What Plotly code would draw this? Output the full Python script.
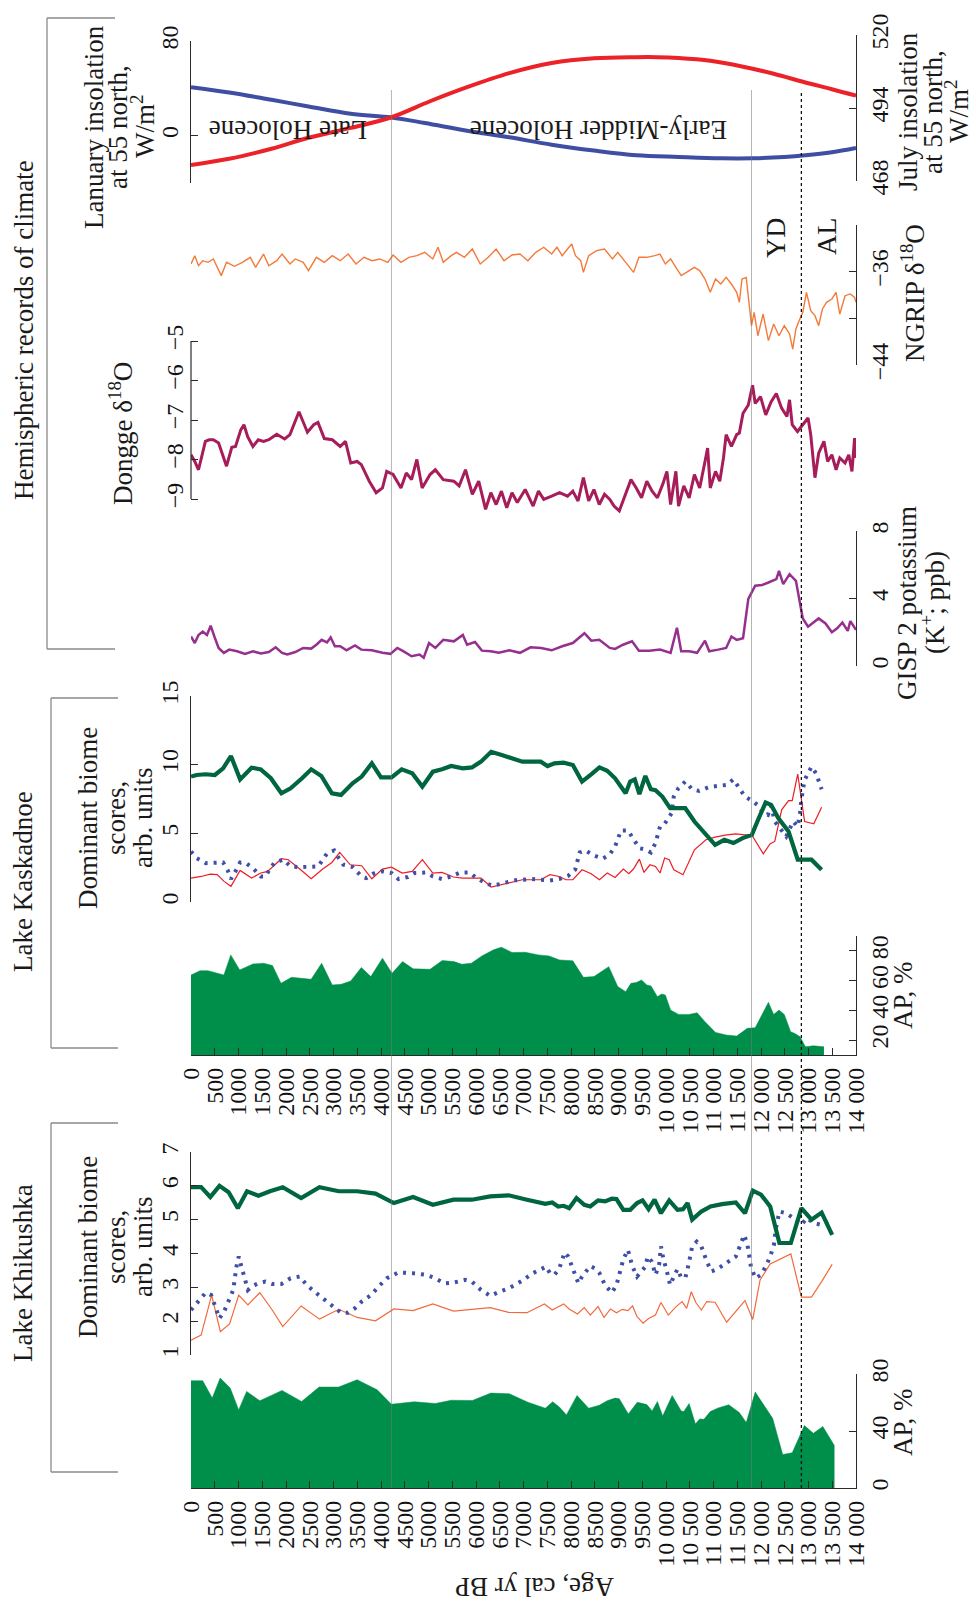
import plotly.graph_objects as go

W, H = 976, 1603
FONT = "Liberation Serif"

# ---------------- data ----------------
AGE_TICKS = [0, 500, 1000, 1500, 2000, 2500, 3000, 3500, 4000, 4500, 5000, 5500, 6000, 6500,
             7000, 7500, 8000, 8500, 9000, 9500, 10000, 10500, 11000, 11500, 12000, 12500,
             13000, 13500, 14000]
AGE_TICK_LABELS = ["0", "500", "1000", "1500", "2000", "2500", "3000", "3500", "4000", "4500",
                   "5000", "5500", "6000", "6500", "7000", "7500", "8000", "8500", "9000", "9500",
                   "10 000", "10 500", "11 000", "11 500", "12 000", "12 500", "13 000", "13 500",
                   "14 000"]
BOUNDARY_AGES = [4220, 11800]      # grey lines
AL_BOUNDARY_AGE = 12850            # dotted line

# insolation
JULY_AGE = [0, 804, 1694, 2473, 3363, 4220, 5033, 5812, 6702, 7593, 8483, 9374, 9819, 10264,
            10932, 11600, 12267, 12935, 13492, 14000]
JULY_INS = [473.7, 475.9, 479.5, 483.4, 486.9, 490.7, 496.4, 501.4, 506.4, 510.0, 511.7, 512.1,
            512.1, 511.8, 510.8, 508.8, 506.2, 503.1, 500.7, 498.4]
JAN_AGE = [0, 804, 1694, 2473, 3363, 4220, 4922, 5812, 6702, 7593, 8483, 9374, 10264, 11154,
           11822, 12490, 12935, 13492, 14000]
JAN_INS = [41.0, 36.5, 30.3, 24.7, 18.5, 15.4, 10.7, 4.2, -1.4, -7.6, -12.6, -16.6, -18.0, -19.1,
           -19.1, -18.0, -16.6, -14.0, -10.4]

# NGRIP d18O
NGRIP_AGE = [0, 80, 158, 247, 358, 470, 637, 748, 915, 1082,
             1249, 1360, 1527, 1638, 1805, 1917, 2083, 2195, 2362, 2473,
             2640, 2807, 2974, 3141, 3308, 3475, 3642, 3809, 3976, 4143,
             4254, 4421, 4588, 4755, 4922, 5089, 5200, 5311, 5478, 5589,
             5756, 5923, 6090, 6257, 6424, 6591, 6758, 6925, 7092, 7259,
             7426, 7593, 7704, 7815, 7927, 8016, 8094, 8205, 8261, 8372,
             8539, 8706, 8873, 8984, 9151, 9318, 9429, 9596, 9763, 9874,
             9986, 10097, 10208, 10320, 10431, 10598, 10709, 10821, 10932, 11043,
             11154, 11266, 11377, 11488, 11544, 11600, 11689, 11745, 11800, 11856,
             11934, 12045, 12156, 12267, 12379, 12490, 12601, 12668, 12735, 12802,
             12880, 12957, 13047, 13136, 13214, 13293, 13380, 13492, 13581, 13659,
             13770, 13881, 13970, 14000]
NGRIP_D18O = [-35.34, -34.63, -35.49, -35.06, -35.20, -34.91, -36.34, -35.20, -35.54, -35.20,
              -34.77, -35.63, -34.49, -35.49, -35.06, -34.49, -35.34, -34.91, -35.20, -35.91,
              -34.77, -35.20, -34.63, -35.06, -34.49, -35.34, -34.77, -35.06, -34.91, -35.20,
              -34.57, -35.20, -34.77, -34.63, -34.34, -34.91, -33.91, -35.20, -34.63, -34.34,
              -34.77, -34.06, -35.34, -34.77, -34.06, -35.06, -34.57, -34.49, -35.06, -34.34,
              -33.91, -34.49, -33.91, -34.63, -34.06, -33.63, -34.63, -35.06, -36.06, -34.63,
              -34.20, -34.06, -34.91, -34.34, -35.20, -36.06, -34.77, -34.77, -34.63, -34.49,
              -35.34, -34.91, -35.63, -36.34, -36.06, -35.63, -35.91, -36.63, -37.77, -36.63,
              -37.06, -36.49, -37.06, -37.77, -38.63, -36.63, -36.49, -38.91, -40.63, -39.49,
              -41.49, -39.63, -41.91, -40.49, -41.49, -40.63, -41.34, -42.63, -40.91, -40.20,
              -39.49, -37.77, -39.34, -39.77, -40.63, -39.20, -38.63, -38.34, -37.77, -39.63,
              -38.06, -37.91, -38.20, -38.63]

# Dongge d18O
DONGGE_AGE = [0, 80, 158, 225, 303, 381, 470, 581, 748, 859,
              937, 1048, 1115, 1193, 1304, 1416, 1527, 1638, 1805, 1972,
              2083, 2273, 2451, 2584, 2673, 2807, 2974, 3141, 3252, 3363,
              3497, 3586, 3753, 3898, 4031, 4120, 4254, 4421, 4532, 4643,
              4755, 4866, 5033, 5144, 5311, 5534, 5645, 5779, 5923, 6057,
              6202, 6313, 6424, 6535, 6647, 6758, 6869, 7036, 7203, 7315,
              7426, 7593, 7760, 7927, 8038, 8149, 8261, 8372, 8483, 8595,
              8706, 8817, 8906, 9017, 9151, 9262, 9374, 9485, 9596, 9708,
              9819, 9930, 10019, 10097, 10208, 10264, 10375, 10487, 10598, 10709,
              10821, 10876, 10932, 11043, 11132, 11210, 11266, 11377, 11488, 11544,
              11622, 11733, 11822, 11878, 11990, 12100, 12212, 12323, 12434, 12546,
              12601, 12657, 12768, 12880, 12991, 13047, 13136, 13214, 13325, 13403,
              13492, 13581, 13659, 13770, 13848, 13915, 13970, 14000]
DONGGE_D18O = [-7.88, -8.05, -8.26, -7.96, -7.54, -7.50, -7.50, -7.58, -8.17, -7.69,
               -7.67, -7.25, -7.12, -7.42, -7.67, -7.50, -7.54, -7.50, -7.36, -7.48,
               -7.37, -6.79, -7.31, -7.12, -7.06, -7.47, -7.50, -7.67, -7.54, -8.09,
               -8.05, -8.13, -8.55, -8.84, -8.72, -8.30, -8.38, -8.72, -8.34, -8.51,
               -8.00, -8.72, -8.38, -8.26, -8.51, -8.55, -8.67, -8.26, -8.88, -8.55,
               -9.26, -8.84, -9.14, -8.80, -9.22, -8.84, -9.09, -8.76, -9.18, -8.80,
               -9.01, -8.93, -8.84, -8.93, -8.80, -9.05, -8.46, -9.05, -8.76, -9.14,
               -8.88, -9.01, -9.18, -9.30, -8.88, -8.51, -8.72, -8.97, -8.55, -8.80,
               -8.97, -8.63, -8.30, -9.14, -8.30, -9.18, -8.67, -8.97, -8.38, -8.72,
               -8.05, -7.71, -8.72, -8.30, -8.55, -7.96, -7.37, -7.67, -7.37, -7.33,
               -6.83, -6.62, -6.12, -6.58, -6.41, -6.87, -6.54, -6.33, -6.70, -6.91,
               -6.49, -7.12, -7.29, -7.12, -6.95, -7.37, -8.46, -7.84, -7.54, -8.05,
               -7.88, -8.26, -7.96, -8.09, -7.88, -8.30, -7.46, -7.96]

# GISP2 potassium
GISP_AGE = [0, 80, 158, 247, 336, 414, 492, 581, 692, 804,
            970, 1137, 1304, 1471, 1638, 1783, 1917, 2028, 2195, 2362,
            2529, 2640, 2751, 2863, 2940, 3029, 3141, 3274, 3452, 3586,
            3809, 4031, 4198, 4343, 4476, 4643, 4810, 4899, 5011, 5144,
            5311, 5534, 5723, 5812, 5979, 6124, 6313, 6480, 6702, 6925,
            7148, 7370, 7593, 7815, 8038, 8172, 8283, 8428, 8595, 8817,
            8928, 9095, 9285, 9430, 9652, 9875, 10097, 10231, 10320, 10487,
            10654, 10821, 10910, 11099, 11266, 11377, 11488, 11622, 11733, 11878,
            12023, 12156, 12323, 12379, 12468, 12601, 12735, 12880, 12991, 13213,
            13358, 13492, 13603, 13714, 13826, 13881, 14000]
GISP_K = [1.75, 1.36, 1.84, 2.04, 1.84, 2.39, 1.75, 1.07, 0.78, 0.97,
          0.87, 0.72, 0.87, 0.74, 0.83, 1.11, 0.78, 0.68, 0.83, 1.07,
          1.03, 1.26, 1.55, 1.40, 1.69, 1.17, 1.17, 0.93, 1.22, 0.97,
          0.93, 0.78, 0.72, 1.07, 0.87, 0.58, 0.68, 0.49, 1.36, 1.07,
          1.55, 1.46, 1.84, 1.26, 1.42, 0.91, 0.87, 0.78, 0.93, 0.78,
          1.11, 1.07, 0.93, 1.17, 1.36, 1.65, 1.94, 1.50, 1.55, 1.07,
          1.01, 1.26, 1.46, 0.91, 0.91, 0.97, 0.78, 2.27, 0.87, 0.87,
          0.78, 1.50, 0.87, 0.97, 1.07, 1.75, 1.55, 1.65, 3.98, 4.76,
          4.80, 4.95, 5.15, 5.63, 4.85, 5.44, 5.05, 2.82, 2.33, 2.82,
          2.52, 2.00, 2.23, 2.58, 2.08, 2.66, 2.14]

# Lake Kaskadnoe biome scores
KASK_GREEN_AGE = [0, 116, 309, 502, 676, 841, 1034, 1275, 1469, 1681,
                  1903, 2097, 2338, 2531, 2744, 2966, 3159, 3401, 3594, 3807,
                  4000, 4222, 4435, 4657, 4870, 5092, 5285, 5478, 5720, 5913,
                  6106, 6319, 6541, 6783, 6976, 7362, 7507, 7652, 7845, 8039,
                  8232, 8425, 8599, 8763, 8928, 9150, 9247, 9343, 9440, 9565,
                  9681, 9778, 9923, 10087, 10261, 10406, 10599, 10841, 11034, 11227,
                  11420, 11614, 11807, 11952, 12097, 12213, 12367, 12580, 12773, 12870,
                  13063, 13276]
KASK_GREEN = [9.13, 9.25, 9.30, 9.25, 9.73, 10.63, 8.93, 9.78, 9.66, 9.01,
              7.92, 8.28, 9.01, 9.66, 9.18, 7.92, 7.80, 8.64, 9.13, 10.10,
              9.08, 9.08, 9.66, 9.37, 8.40, 9.49, 9.66, 9.90, 9.73, 9.80,
              10.22, 10.94, 10.70, 10.41, 10.22, 10.22, 9.90, 10.10, 10.15, 9.98,
              8.77, 9.30, 9.80, 9.56, 9.01, 7.92, 8.77, 8.93, 7.85, 9.18,
              8.21, 8.14, 7.68, 6.83, 6.83, 6.83, 5.86, 4.89, 4.16, 4.53,
              4.29, 4.65, 4.89, 6.10, 7.24, 7.07, 6.10, 5.13, 3.08, 3.08,
              3.08, 2.35]
KASK_BLUE_AGE = [0, 116, 309, 502, 676, 773, 841, 937, 1034, 1179,
                 1324, 1469, 1565, 1662, 1758, 1952, 2097, 2290, 2483, 2676,
                 2870, 3015, 3111, 3208, 3401, 3594, 3691, 3836, 4029, 4222,
                 4367, 4560, 4705, 4947, 5092, 5285, 5478, 5672, 5865, 6010,
                 6203, 6348, 6541, 6783, 6976, 7169, 7362, 7556, 7749, 7942,
                 8087, 8184, 8309, 8474, 8667, 8812, 8928, 9053, 9198, 9314,
                 9440, 9585, 9681, 9778, 9875, 9971, 10116, 10164, 10261, 10406,
                 10551, 10696, 10889, 11082, 11276, 11420, 11565, 11662, 11807, 11952,
                 12048, 12145, 12213, 12290, 12435, 12531, 12676, 12773, 12821, 12850,
                 12918, 13063, 13160, 13208, 13276]
KASK_BLUE = [3.68, 3.20, 2.83, 2.83, 2.88, 2.30, 1.67, 2.23, 2.88, 2.78,
             2.40, 1.86, 1.86, 2.40, 2.88, 3.08, 2.59, 2.54, 2.59, 2.59,
             3.56, 3.75, 3.20, 2.71, 2.54, 1.86, 1.74, 2.06, 2.23, 2.11,
             1.67, 1.82, 2.11, 2.15, 1.86, 1.67, 1.86, 2.15, 2.15, 1.74,
             1.38, 1.19, 1.33, 1.57, 1.62, 1.67, 1.62, 1.57, 1.67, 1.91,
             2.35, 3.61, 3.75, 3.39, 3.15, 3.44, 4.04, 5.21, 5.21, 4.65,
             3.92, 3.80, 3.61, 4.29, 5.50, 5.69, 6.46, 7.68, 8.28, 8.77,
             8.21, 8.09, 8.35, 8.45, 8.52, 8.93, 8.21, 7.68, 7.38, 7.00,
             6.46, 6.34, 7.00, 5.86, 5.21, 4.77, 5.86, 5.50, 6.46, 7.48,
             8.89, 9.85, 9.37, 8.89, 8.21]
KASK_RED_AGE = [0, 213, 406, 551, 696, 841, 1034, 1275, 1469, 1614,
                1903, 2048, 2290, 2531, 2773, 2966, 3131, 3353, 3594, 3807,
                4029, 4222, 4445, 4657, 4870, 5092, 5285, 5527, 5720, 5913,
                6106, 6319, 6541, 6783, 6976, 7362, 7556, 7749, 7894, 8039,
                8232, 8425, 8599, 8763, 8928, 9102, 9218, 9314, 9440, 9536,
                9662, 9778, 9875, 9971, 10068, 10164, 10358, 10599, 10841, 11034,
                11276, 11469, 11710, 11826, 11904, 12048, 12193, 12290, 12435, 12580,
                12657, 12773, 12918, 13111, 13276]
KASK_RED = [1.74, 1.86, 2.03, 1.99, 1.50, 1.14, 2.30, 1.74, 2.11, 2.23,
            3.15, 3.08, 2.40, 1.69, 2.40, 2.88, 3.61, 2.71, 2.64, 1.69,
            2.40, 2.54, 2.11, 2.23, 3.08, 2.11, 2.15, 1.82, 1.74, 1.74,
            1.74, 1.09, 1.26, 1.50, 1.62, 1.62, 1.99, 1.86, 1.62, 1.62,
            2.35, 2.06, 1.62, 2.11, 1.79, 2.40, 2.06, 2.40, 3.12, 2.15,
            2.71, 2.59, 2.11, 3.20, 3.08, 2.35, 1.99, 3.80, 4.53, 4.72,
            4.89, 4.96, 4.87, 4.77, 4.29, 3.51, 4.24, 4.41, 6.71, 7.38,
            7.38, 9.32, 5.86, 5.69, 6.90]
KASK_AP_AGE = [0, 191, 358, 525, 692, 837, 1026, 1304, 1527, 1716,
               1894, 2117, 2529, 2751, 2974, 3163, 3363, 3586, 3786, 4031,
               4232, 4454, 4677, 5033, 5289, 5534, 5701, 5901, 6124, 6369,
               6535, 6758, 7036, 7315, 7537, 7760, 8038, 8261, 8483, 8795,
               8984, 9151, 9262, 9374, 9485, 9596, 9685, 9819, 9908, 9986,
               10097, 10264, 10487, 10654, 10821, 11043, 11266, 11488, 11711, 11878,
               12045, 12156, 12267, 12379, 12490, 12624, 12713, 12824, 12935, 13102,
               13325]
KASK_AP = [63.8, 66.7, 66.7, 65.4, 63.8, 77.3, 67.2, 71.2, 71.7, 70.1,
           58.2, 62.2, 60.9, 71.7, 57.1, 57.5, 59.8, 68.8, 62.7, 75.1,
           64.9, 72.8, 67.9, 67.6, 73.5, 72.8, 71.0, 71.7, 76.6, 80.7,
           82.5, 78.9, 79.1, 77.3, 76.6, 73.9, 73.3, 62.2, 62.7, 69.4,
           56.0, 52.6, 58.2, 58.7, 60.4, 57.1, 56.4, 49.2, 51.0, 50.3,
           40.2, 37.3, 37.3, 38.4, 32.4, 25.2, 23.4, 22.7, 27.9, 28.3,
           39.1, 45.4, 37.3, 40.2, 37.3, 25.6, 24.5, 22.2, 15.5, 16.2,
           15.5]

# Lake Khikushka biome scores
KHIK_GREEN_AGE = [0, 213, 406, 599, 792, 986, 1179, 1420, 1662, 1932,
                  2319, 2705, 3111, 3498, 3884, 4271, 4676, 5092, 5527, 5913,
                  6300, 6686, 7073, 7459, 7604, 7730, 7845, 7961, 8116, 8280,
                  8406, 8570, 8715, 8860, 8957, 9102, 9247, 9391, 9507, 9633,
                  9759, 9894, 10068, 10242, 10358, 10454, 10551, 10744, 10937, 11179,
                  11469, 11662, 11826, 12000, 12193, 12387, 12628, 12850, 13063, 13276,
                  13498]
KHIK_GREEN = [5.96, 5.96, 5.67, 6.00, 5.81, 5.34, 5.84, 5.71, 5.84, 5.96,
              5.64, 5.96, 5.84, 5.84, 5.77, 5.49, 5.67, 5.44, 5.59, 5.59,
              5.69, 5.72, 5.59, 5.47, 5.51, 5.39, 5.41, 5.34, 5.64, 5.44,
              5.39, 5.57, 5.54, 5.62, 5.61, 5.29, 5.29, 5.49, 5.57, 5.31,
              5.59, 5.19, 5.57, 5.29, 5.31, 5.49, 5.00, 5.24, 5.39, 5.46,
              5.51, 5.19, 5.86, 5.74, 5.39, 4.31, 4.31, 5.34, 5.00, 5.21,
              4.55]
KHIK_BLUE_AGE = [0, 116, 193, 309, 425, 502, 599, 696, 792, 889,
                 957, 1005, 1063, 1130, 1198, 1295, 1420, 1565, 1710, 1903,
                 2097, 2290, 2435, 2628, 2821, 3015, 3159, 3304, 3449, 3594,
                 3788, 3981, 4126, 4367, 4657, 4947, 5140, 5333, 5527, 5768,
                 5913, 6106, 6300, 6493, 6686, 6879, 7024, 7169, 7362, 7478,
                 7556, 7652, 7749, 7826, 7865, 7942, 8019, 8077, 8155, 8232,
                 8309, 8406, 8503, 8599, 8715, 8860, 8957, 9024, 9102, 9198,
                 9295, 9391, 9488, 9565, 9614, 9701, 9778, 9855, 9894, 9942,
                 10019, 10087, 10164, 10242, 10309, 10406, 10474, 10551, 10647, 10744,
                 10860, 10957, 11082, 11208, 11343, 11469, 11565, 11643, 11710, 11788,
                 11884, 12000, 12097, 12193, 12271, 12309, 12387, 12531, 12676, 12850,
                 12966, 13111, 13256, 13401, 13498]
KHIK_BLUE = [2.33, 2.53, 2.65, 2.84, 2.77, 2.45, 2.08, 2.28, 2.63, 2.92,
             3.61, 3.91, 3.61, 3.27, 2.92, 3.04, 3.12, 3.17, 3.10, 3.10,
             3.27, 3.32, 3.07, 2.84, 2.63, 2.43, 2.25, 2.25, 2.38, 2.58,
             2.77, 3.07, 3.27, 3.44, 3.42, 3.37, 3.27, 3.12, 3.14, 3.22,
             3.17, 2.92, 2.75, 2.87, 2.97, 3.12, 3.24, 3.40, 3.54, 3.61,
             3.42, 3.37, 3.54, 3.83, 4.03, 3.91, 3.61, 3.42, 3.12, 3.32,
             3.44, 3.63, 3.56, 3.42, 3.07, 2.84, 3.07, 3.42, 3.83, 4.11,
             3.61, 3.32, 3.47, 3.61, 3.91, 3.76, 3.37, 3.66, 4.21, 3.86,
             3.47, 3.07, 3.32, 3.54, 3.32, 3.27, 3.66, 4.21, 4.35, 4.21,
             3.76, 3.47, 3.54, 3.66, 3.76, 3.91, 4.25, 4.55, 4.30, 3.61,
             3.27, 3.37, 3.61, 3.91, 4.25, 4.70, 5.24, 5.19, 5.05, 4.85,
             5.05, 4.90, 4.85, 4.95, 5.00]
KHIK_RED_AGE = [0, 213, 435, 618, 812, 1005, 1198, 1449, 1710, 1932,
                2319, 2705, 3111, 3498, 3884, 4271, 4676, 5092, 5527, 5913,
                6300, 6686, 7073, 7440, 7604, 7845, 7961, 8135, 8280, 8406,
                8570, 8696, 8831, 8957, 9082, 9198, 9295, 9391, 9517, 9633,
                9778, 9894, 10048, 10213, 10338, 10435, 10532, 10628, 10744, 10860,
                11034, 11276, 11662, 11826, 11981, 12193, 12628, 12850, 13063, 13276,
                13498]
KHIK_RED = [1.44, 1.59, 2.77, 1.69, 1.92, 2.77, 2.48, 2.84, 2.33, 1.84,
            2.45, 2.06, 2.35, 2.11, 2.01, 2.36, 2.31, 2.51, 2.30, 2.36,
            2.40, 2.26, 2.25, 2.51, 2.33, 2.51, 2.36, 2.21, 2.40, 2.18,
            2.43, 2.11, 2.36, 2.25, 2.35, 2.31, 2.45, 2.13, 1.94, 2.08,
            2.18, 2.55, 2.18, 2.43, 2.58, 2.38, 2.87, 2.55, 2.33, 2.58,
            2.56, 1.97, 2.61, 2.05, 3.22, 3.69, 3.99, 2.71, 2.71, 3.17,
            3.68]
KHIK_AP_AGE = [0, 247, 447, 614, 826, 1004, 1171, 1449, 1917, 2328,
               2696, 3107, 3497, 3920, 4220, 4476, 4699, 5144, 5478, 5923,
               6313, 6702, 7092, 7459, 7615, 7760, 7904, 8127, 8372, 8595,
               8761, 8928, 9017, 9207, 9396, 9596, 9708, 9819, 9930, 10130,
               10320, 10375, 10487, 10620, 10709, 10798, 10932, 11099, 11321, 11544,
               11689, 11878, 12245, 12457, 12657, 12913, 13102, 13302, 13547]
KHIK_AP = [75.3, 75.3, 63.1, 77.2, 70.1, 54.8, 67.8, 61.2, 68.5, 60.7,
           70.8, 70.8, 76.0, 68.9, 58.8, 59.5, 60.5, 59.3, 61.6, 61.4,
           66.6, 66.1, 60.2, 56.0, 60.5, 56.7, 51.3, 64.9, 56.0, 58.1,
           61.2, 63.1, 62.6, 52.0, 60.2, 58.6, 54.1, 60.7, 50.6, 64.9,
           54.1, 53.6, 59.3, 44.9, 48.5, 48.2, 53.6, 56.2, 58.4, 52.9,
           45.9, 67.3, 48.9, 23.5, 24.7, 43.8, 38.4, 43.1, 29.6]

# ---------------- colours ----------------
C_FILL = "#008F4A"
C_DKGREEN = "#006640"
C_BLUE = "#3F4FA6"
C_RED = "#EE1D25"
C_ORANGE_RED = "#F26A3C"
C_INS_RED = "#EC2229"
C_INS_BLUE = "#3D4EA3"
C_NGRIP = "#F47A3A"
C_DONGGE = "#A61D5A"
C_GISP = "#95308E"
AX = "#2a2a2a"

TICK_SIZE = 24
TEXT_SIZE = 27


def fx(p):
    return p / W


def fy(p):
    return 1 - p / H


X_DOM = [fx(191), fx(856)]

fig = go.Figure()


def add_line(x, y, xa, ya, color, width, dash=None, shape="linear"):
    fig.add_trace(go.Scatter(x=x, y=y, xaxis=xa, yaxis=ya, mode="lines",
                             line=dict(color=color, width=width, dash=dash, shape=shape),
                             hoverinfo="skip", showlegend=False))


# insolation
add_line(JAN_AGE, JAN_INS, "x", "y", C_INS_BLUE, 4, shape="spline")
add_line(JULY_AGE, JULY_INS, "x", "y2", C_INS_RED, 4, shape="spline")
# hemispheric records
add_line(NGRIP_AGE, NGRIP_D18O, "x", "y3", C_NGRIP, 1.4)
add_line(DONGGE_AGE, DONGGE_D18O, "x", "y4", C_DONGGE, 3)
add_line(GISP_AGE, GISP_K, "x", "y5", C_GISP, 2.5)
# Kaskadnoe
add_line(KASK_RED_AGE, KASK_RED, "x", "y6", C_RED, 1.2)
add_line(KASK_BLUE_AGE, KASK_BLUE, "x", "y6", C_BLUE, 4, dash="3px,6px")
add_line(KASK_GREEN_AGE, KASK_GREEN, "x", "y6", C_DKGREEN, 4.2)
fig.add_trace(go.Scatter(x=KASK_AP_AGE, y=KASK_AP, xaxis="x2", yaxis="y7", mode="lines",
                         fill="tozeroy", fillcolor=C_FILL, line=dict(color=C_FILL, width=0.5),
                         hoverinfo="skip", showlegend=False))
# Khikushka
add_line(KHIK_RED_AGE, KHIK_RED, "x", "y8", C_ORANGE_RED, 1.2)
add_line(KHIK_BLUE_AGE, KHIK_BLUE, "x", "y8", C_BLUE, 4, dash="3px,6px")
add_line(KHIK_GREEN_AGE, KHIK_GREEN, "x", "y8", C_DKGREEN, 4.2)
fig.add_trace(go.Scatter(x=KHIK_AP_AGE, y=KHIK_AP, xaxis="x3", yaxis="y9", mode="lines",
                         fill="tozeroy", fillcolor=C_FILL, line=dict(color=C_FILL, width=0.5),
                         hoverinfo="skip", showlegend=False))

tickfont = dict(family=FONT, size=TICK_SIZE, color="#111")
base_axis = dict(showgrid=False, zeroline=False, automargin=False, fixedrange=True)


def yax(dom_px, rng, side, tickvals, ticktext=None, showline=True):
    d = dict(base_axis)
    d.update(domain=[fy(dom_px[0]), fy(dom_px[1])], range=rng, side=side, anchor="x",
             showline=showline, linecolor=AX, linewidth=1.2,
             ticks="inside", ticklen=7, tickwidth=1.2, tickcolor=AX,
             tickvals=tickvals, ticktext=ticktext if ticktext else [str(v) for v in tickvals],
             tickangle=-90, tickfont=tickfont, ticklabelstandoff=2)
    return d


def xax_visible(anchor):
    d = dict(base_axis)
    d.update(domain=X_DOM, range=[0, 14000], anchor=anchor, showline=True, linecolor=AX,
             linewidth=1.2, ticks="inside", ticklen=7, tickwidth=1.2, tickcolor=AX,
             tickvals=AGE_TICKS, ticktext=AGE_TICK_LABELS, tickangle=-90,
             tickfont=tickfont, ticklabelstandoff=2)
    return d


xa_hidden = dict(base_axis)
xa_hidden.update(domain=X_DOM, range=[0, 14000], visible=False, anchor="y")

fig.update_layout(
    width=W, height=H, margin=dict(l=0, r=0, t=0, b=0), autosize=False,
    paper_bgcolor="white", plot_bgcolor="rgba(0,0,0,0)", template="none",
    showlegend=False,
    xaxis=xa_hidden,
    xaxis2=xax_visible("y7"),
    xaxis3=xax_visible("y9"),
    yaxis=yax((183, 41), [-40, 80], "left", [0, 80]),
    yaxis2=yax((181, 35), [468, 520], "right", [468, 494, 520]),
    yaxis3=yax((365, 225), [-44, -32], "right", [-44, -40, -36, -32],
               ["\u221244", "", "\u221236", ""]),
    yaxis4=yax((518.75, 333.1), [-9.5, -4.8], "left", [-9, -8, -7, -6, -5],
               ["\u22129", "\u22128", "\u22127", "\u22126", "\u22125"], showline=False),
    yaxis5=yax((666, 531), [0, 8], "right", [0, 4, 8]),
    yaxis6=yax((902, 696), [0, 15], "left", [0, 5, 10, 15]),
    yaxis7=yax((1055, 936), [10, 90], "right", [20, 40, 60, 80]),
    yaxis8=yax((1355, 1152), [1, 7], "left", [1, 2, 3, 4, 5, 6, 7]),
    yaxis9=yax((1488, 1374), [0, 80], "right", [0, 40, 80]),
)

shapes = []
# Dongge axis spine (only between -9 and -5)
shapes.append(dict(type="line", xref="x domain", x0=0, x1=0, yref="y4", y0=-9, y1=-5,
                   line=dict(color=AX, width=1.2)))
# period boundaries
for a in BOUNDARY_AGES:
    shapes.append(dict(type="line", xref="x3", x0=a, x1=a, yref="paper", y0=fy(1488), y1=fy(90),
                       line=dict(color="rgba(120,120,120,0.55)", width=1), layer="above"))
shapes.append(dict(type="line", xref="x3", x0=AL_BOUNDARY_AGE, x1=AL_BOUNDARY_AGE, yref="paper",
                   y0=fy(1488), y1=fy(92), line=dict(color="#111", width=1.3, dash="3px,3px"),
                   layer="above"))


# group brackets
def bracket(xv, ytop, ybot, xend):
    c = dict(color="#8a8a8a", width=1.3)
    shapes.append(dict(type="line", xref="paper", yref="paper", x0=fx(xv), x1=fx(xv),
                       y0=fy(ytop), y1=fy(ybot), line=c))
    shapes.append(dict(type="line", xref="paper", yref="paper", x0=fx(xv), x1=fx(xend),
                       y0=fy(ytop), y1=fy(ytop), line=c))
    shapes.append(dict(type="line", xref="paper", yref="paper", x0=fx(xv), x1=fx(xend),
                       y0=fy(ybot), y1=fy(ybot), line=c))


bracket(47, 18, 649, 115)
bracket(51, 698, 1048, 118)
bracket(51, 1123, 1472, 118)
fig.update_layout(shapes=shapes)

ann = []


def text(t, xp, yp, angle=-90, size=TEXT_SIZE):
    ann.append(dict(text=t, x=fx(xp), y=fy(yp), xref="paper", yref="paper", showarrow=False,
                    textangle=angle, xanchor="center", yanchor="middle",
                    font=dict(family=FONT, size=size, color="#1a1a1a")))


text("Hemispheric records of climate", 24, 330)
text("Lake Kaskadnoe", 23, 882)
text("Lake Khikushka", 23, 1273)
text("Lanuary insolation", 94, 127)
text("at 55 north,", 118, 127)
text("W/m<sup>2</sup>", 143, 127)
text("Dongge δ<sup>18</sup>O", 121, 434)
for yc in (818, 1247):
    text("Dominant biome", 88, yc)
    text("scores,", 116, yc)
    text("arb. units", 143, yc)
text("July insolation", 908, 112)
text("at 55 north,", 933, 112)
text("W/m<sup>2</sup>", 957, 112)
text("NGRIP δ<sup>18</sup>O", 913, 293)
text("GISP 2 potassium", 907, 603)
text("(K<sup>+</sup>; ppb)", 933, 603)
text("AP, %", 903, 995)
text("AP, %", 903, 1422)
text("YD", 775, 238, size=28)
text("AL", 827, 237, size=28)
text("Late Holocene", 288, 130, angle=180)
text("Early-Midder Holocene", 599, 130, angle=180)
text("Age, cal yr BP", 535, 1587, angle=180, size=27)
fig.update_layout(annotations=ann)

fig.write_html("out.html", config={"displayModeBar": False},
               post_script="document.body.style.margin='0px';")
